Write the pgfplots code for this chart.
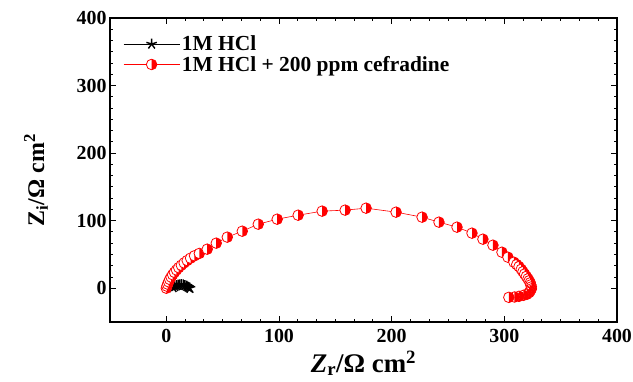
\documentclass[border=0pt]{standalone}
\usepackage{fontspec}
\setmainfont{Liberation Serif}
\usepackage{pgfplots}
\pgfplotsset{compat=1.18}
\usetikzlibrary{plotmarks}
\pgfdeclareplotmark{halfR}{%
  \begin{pgfscope}
  \pgfsetfillcolor{white}
  \pgfpathcircle{\pgfpointorigin}{\pgfplotmarksize}
  \pgfusepathqfill
  \end{pgfscope}
  \pgfpathmoveto{\pgfqpoint{0pt}{\pgfplotmarksize}}
  \pgfpatharc{90}{-90}{\pgfplotmarksize}
  \pgfpathclose
  \pgfusepathqfill
  \pgfpathcircle{\pgfpointorigin}{\pgfplotmarksize}
  \pgfusepathqstroke
}
\begin{document}
\begin{tikzpicture}
\begin{axis}[
  scale only axis,
  width=507bp, height=304bp,
  xmin=-50, xmax=400, ymin=-50, ymax=400,
  xtick={0,100,200,300,400}, ytick={0,100,200,300,400},
  minor tick num=5,
  tick align=inside,
  major tick length=6bp, minor tick length=3.5bp,
  axis line style={line width=1.2bp},
  every tick/.style={black, line width=0.9bp},
  /pgf/number format/assume math mode=true,
  tick label style={font=\fontsize{20}{22}\selectfont\bfseries},
  xticklabel style={yshift=-4bp},
  xlabel={\fontsize{27}{29}\selectfont\bfseries\textit{Z}\textsubscript{r}/Ω cm\textsuperscript{2}},
  ylabel={\fontsize{24}{26}\selectfont\bfseries Z\textsubscript{i}/Ω cm\textsuperscript{2}},
  xlabel style={yshift=-1bp},
  ylabel style={yshift=22bp, xshift=-10bp},
  legend style={at={(0.02,0.955)}, anchor=north west, draw=none, fill=none,
    nodes={font=\fontsize{21.5}{23}\selectfont\bfseries}, row sep=0bp},
  legend cell align=left,
  legend image code/.code={\draw[#1] (0bp,0bp) -- (28bp,0bp); \draw[#1, only marks] plot coordinates {(28bp,0bp)}; \draw[#1] (28bp,0bp) -- (56bp,0bp);},
]
\addplot[black, line width=0.6bp, mark=star, mark size=5.5bp, mark options={line width=1.4bp, fill=black}] coordinates {
(6,1) (7.5,2.5) (9,3.8) (10.5,4.6) (12,5) (13.5,5.2) (15,4.8) (16.5,4) (18,3) (19,2) (20,1) (21,0)
};
\addlegendentry{1M HCl}
\addplot[red, line width=0.6bp, mark=halfR, mark size=5.3bp, mark options={red, fill=red, line width=0.8bp}] coordinates {
(0,0) (0.5,3) (1.2,6) (2,9.5) (3,13) (4.2,16.5) (5.6,20) (7.2,23.5) (9,27) (11,30.5)
(13.3,34) (15.8,37.5) (18.5,41) (21.5,44.5) (25,48) (29.3,51.5) (36.3,57.8) (44.3,66.7)
(54.1,75.6) (67.4,84.4) (81.6,94.8) (98.4,102.2) (117,108.1) (138.3,114.1) (158.7,115.6)
(177.3,118.5) (203.9,112.6) (227,105.2) (242,97.8) (258,90.4) (271.3,81.5) (281,72.6)
(289.9,63.7) (297.9,53.3) (303.2,45.9) (308.5,38.5) (311,35) (313,32) (315,28) (316.5,24.5)
(318,21) (319.5,17.5) (321,14) (322,11) (323,8) (323.5,5) (324,2) (324,-1) (323,-4)
(322,-6.5) (320,-9) (317,-10.5) (313,-12) (309,-13) (304,-13.5)
};
\addlegendentry{1M HCl + 200 ppm cefradine}
\end{axis}
\pgfresetboundingbox
\path (current axis.south west) ++(-110bp,-60bp) rectangle ++(633bp,382bp);
\end{tikzpicture}
\end{document}
